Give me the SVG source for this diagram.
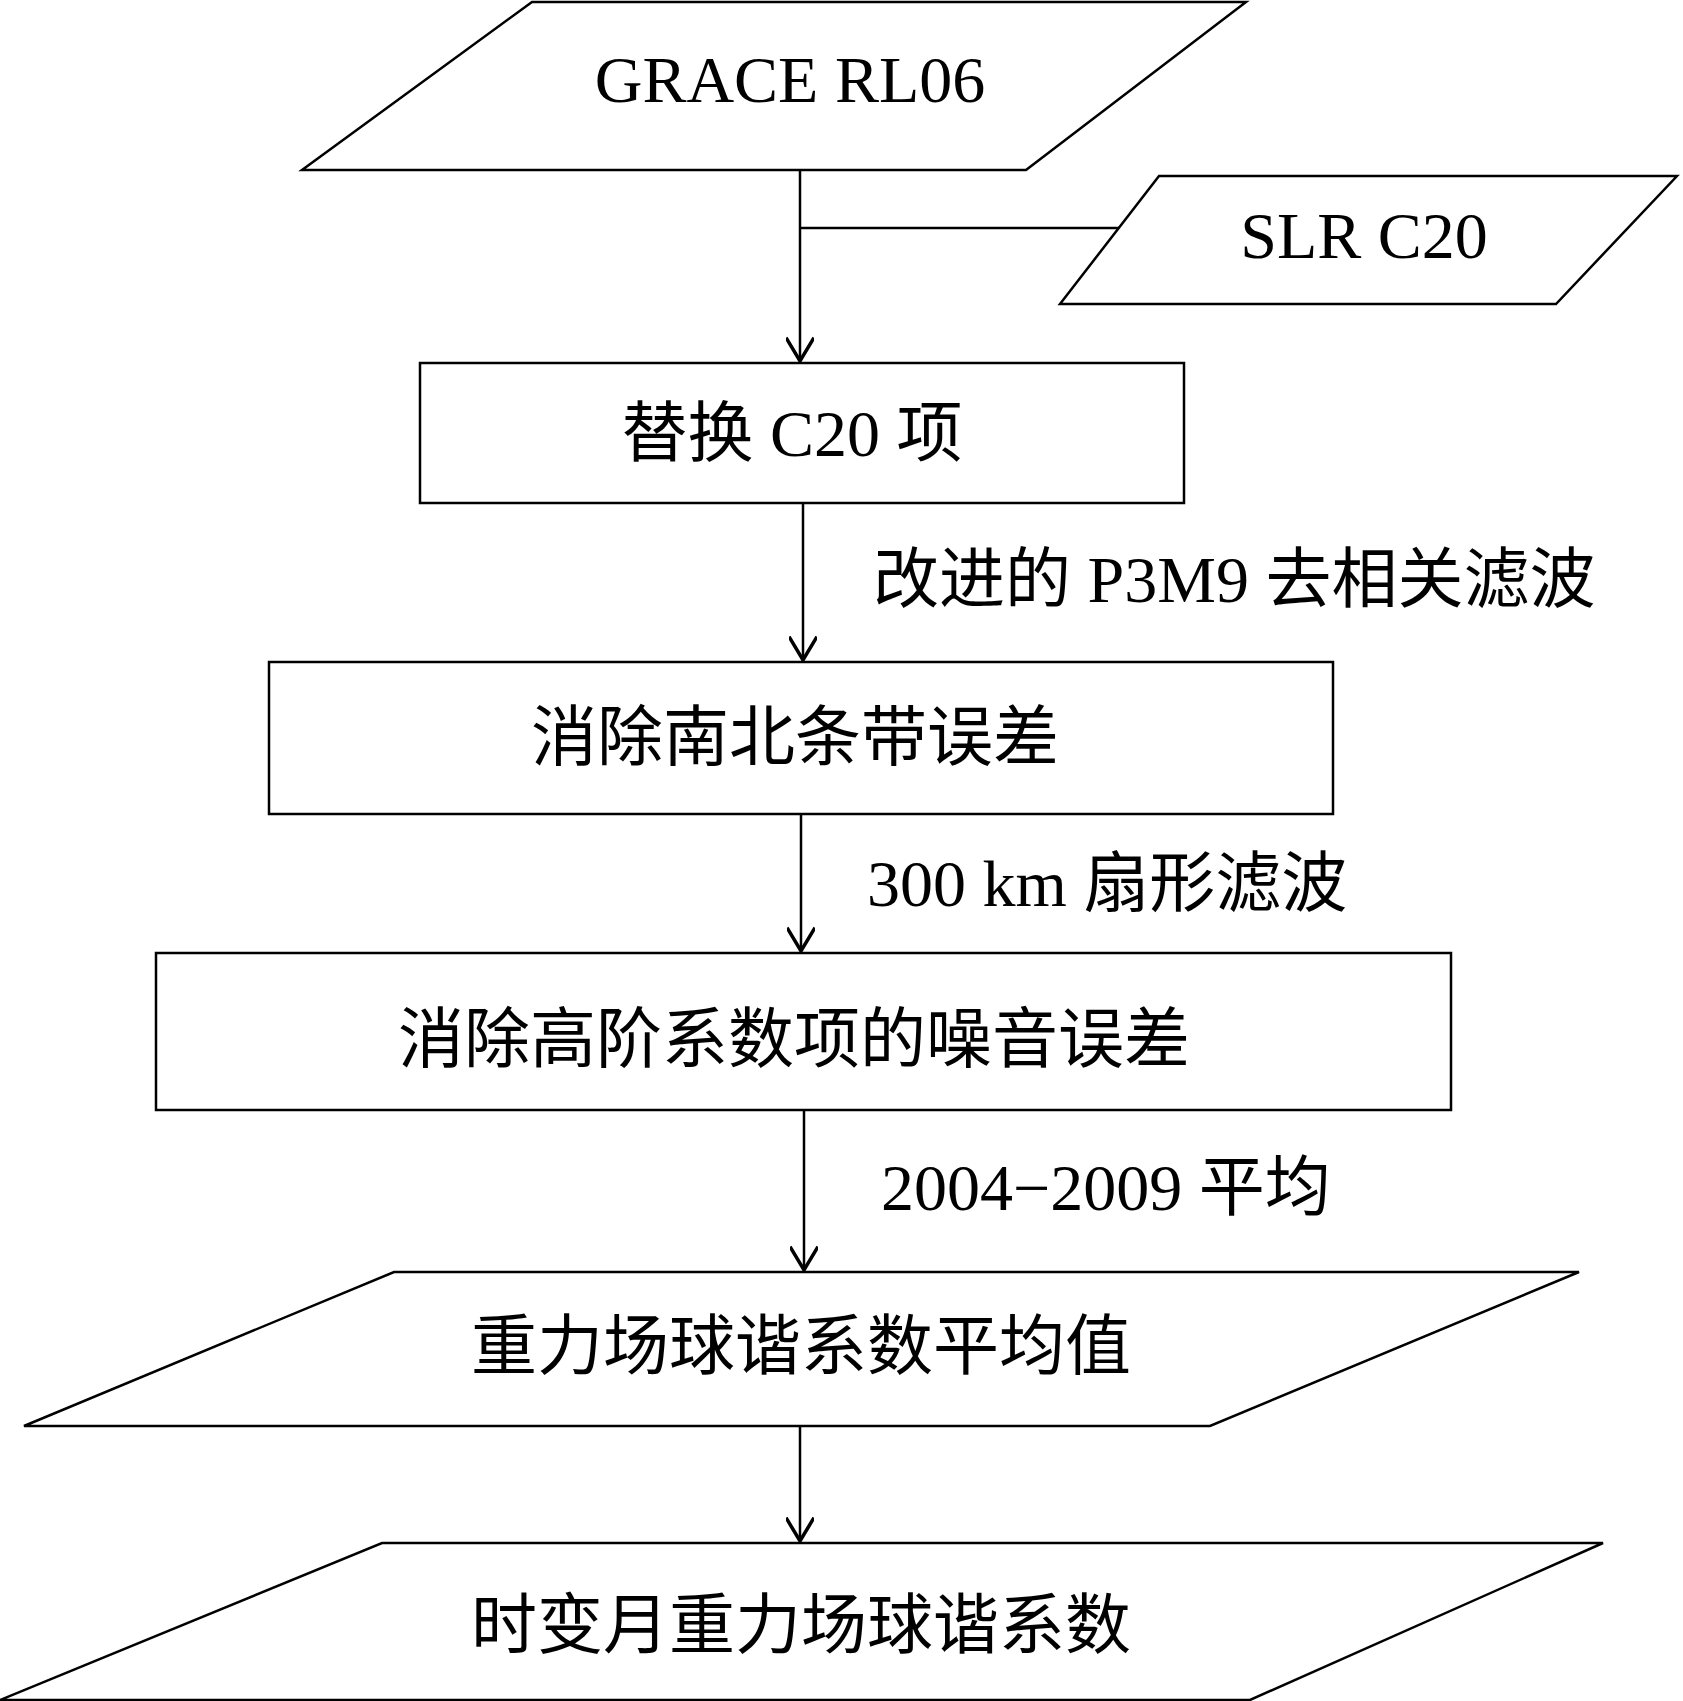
<svg xmlns="http://www.w3.org/2000/svg" width="1683" height="1701" viewBox="0 0 1683 1701">
<style>
.s{fill:#fff;stroke:#000;stroke-width:2.5}
.t{font-family:"Liberation Serif","Noto Sans CJK SC",serif;font-size:66px;fill:#000}
.m{text-anchor:middle}
.c{stroke:#000;stroke-width:2.5;fill:none}
</style>
<defs><marker id="b" viewBox="0 0 20 24" refX="20" refY="12" markerWidth="30" markerHeight="28" markerUnits="userSpaceOnUse" orient="auto"><path d="M0,0 L20,12 L0,24" fill="none" stroke="#000" stroke-width="3"/></marker></defs>
<g id="n1"><polygon class="s" points="532,2 1246,2 1026,170 302,170"/><text class="t m" x="790" y="102">GRACE RL06</text></g>
<g id="n2"><polygon class="s" points="1159,176 1677,176 1556,304 1060,304"/><text class="t m" x="1364" y="258">SLR C20</text></g>
<g id="n3"><rect class="s" x="420" y="363" width="764" height="140"/><text class="t m" x="792" y="456">替换 C20 项</text></g>
<g id="n4"><rect class="s" x="269" y="662" width="1064" height="152"/><text class="t m" x="795" y="760">消除南北条带误差</text></g>
<g id="n5"><rect class="s" x="156" y="953" width="1295" height="157"/><text class="t m" x="794" y="1062">消除高阶系数项的噪音误差</text></g>
<g id="n6"><polygon class="s" points="394,1272 1579,1272 1210,1426 24,1426"/><text class="t m" x="801" y="1369">重力场球谐系数平均值</text></g>
<g id="n7"><polygon class="s" points="382,1543 1603,1543 1250,1700 0,1700"/><text class="t m" x="801" y="1648">时变月重力场球谐系数</text></g>
<g id="edges">
<line class="c" x1="800" y1="170" x2="800" y2="361" marker-end="url(#b)"/>
<line class="c" x1="800" y1="228" x2="1119" y2="228"/>
<line class="c" x1="803" y1="503" x2="803" y2="660" marker-end="url(#b)"/>
<line class="c" x1="801" y1="814" x2="801" y2="951" marker-end="url(#b)"/>
<line class="c" x1="804" y1="1110" x2="804" y2="1270" marker-end="url(#b)"/>
<line class="c" x1="800" y1="1426" x2="800" y2="1541" marker-end="url(#b)"/>
<text class="t" x="873" y="602">改进的 P3M9 去相关滤波</text>
<text class="t" x="867" y="906">300 km 扇形滤波</text>
<text class="t" x="881" y="1210">2004−2009 平均</text>
</g>
</svg>
